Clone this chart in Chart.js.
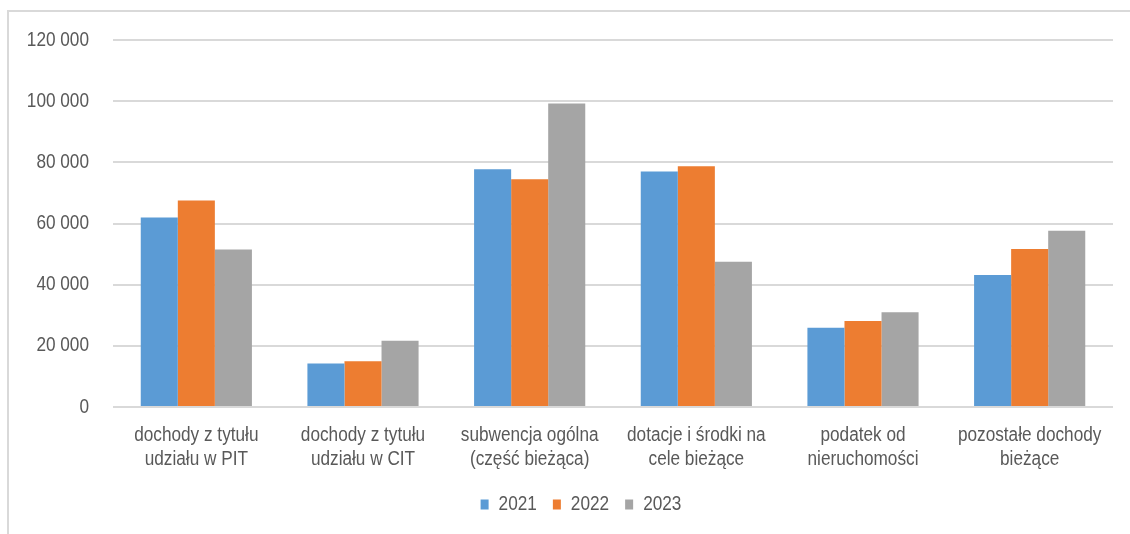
<!DOCTYPE html>
<html>
<head>
<meta charset="utf-8">
<script src="https://cdn.jsdelivr.net/npm/chart.js@4"></script>
<style>
  html, body { margin: 0; padding: 0; background: #fff; }
  #wrap { position: relative; width: 1130px; height: 534px; overflow: hidden; }
  #frame { position: absolute; left: 7px; top: 10px; width: 1200px; height: 600px; border: 2px solid #d9d9d9; box-sizing: border-box; }
  canvas { position: absolute; left: 0; top: 0; }
</style>
</head>
<body>
<div id="wrap">
  <div id="frame"></div>
  <canvas id="c" width="1130" height="534"></canvas>
</div>
<script>
const categories = [
  ["dochody z tytułu", "udziału w PIT"],
  ["dochody z tytułu", "udziału w CIT"],
  ["subwencja ogólna", "(część bieżąca)"],
  ["dotacje i środki na", "cele bieżące"],
  ["podatek od", "nieruchomości"],
  ["pozostałe dochody", "bieżące"]
];
const seriesNames = ["2021", "2022", "2023"];
const values2021 = [62000, 14200, 77700, 77000, 25900, 43200];
const values2022 = [67500, 15000, 74500, 78700, 28100, 51700];
const values2023 = [51500, 21700, 99200, 47500, 31000, 57600];
const yTicks = [0, 20000, 40000, 60000, 80000, 100000, 120000];

const colors = ["#5B9BD5", "#ED7D31", "#A5A5A5"];
const FONT = "'Liberation Sans', Arial, sans-serif";
const TXT = "#595959";
const NARROW = 0.86; // emulate a narrow sans face

function fmt(v) {
  return String(v).replace(/\B(?=(\d{3})+(?!\d))/g, " ");
}

// condensed text rendering on this canvas only
const canvas = document.getElementById("c");
const ctx = canvas.getContext("2d");
const P = CanvasRenderingContext2D.prototype;
ctx.measureText = function (t) {
  const m = P.measureText.call(this, t);
  return {
    width: m.width * NARROW,
    actualBoundingBoxAscent: m.actualBoundingBoxAscent,
    actualBoundingBoxDescent: m.actualBoundingBoxDescent,
    actualBoundingBoxLeft: m.actualBoundingBoxLeft * NARROW,
    actualBoundingBoxRight: m.actualBoundingBoxRight * NARROW,
    fontBoundingBoxAscent: m.fontBoundingBoxAscent,
    fontBoundingBoxDescent: m.fontBoundingBoxDescent
  };
};
ctx.fillText = function (t, x, y, maxW) {
  this.save();
  this.translate(x, y);
  this.scale(NARROW, 1);
  if (maxW !== undefined) P.fillText.call(this, t, 0, 0, maxW / NARROW);
  else P.fillText.call(this, t, 0, 0);
  this.restore();
};

const shiftLegend = {
  id: "shiftLegend",
  beforeDraw(chart) {
    const lg = chart.legend;
    if (!lg) return;
    lg.left = 49;
    lg.right = chart.chartArea.right;
    lg.width = lg.right - lg.left;
  }
};

new Chart(ctx, {
  type: "bar",
  data: {
    labels: categories,
    datasets: [values2021, values2022, values2023].map((d, i) => ({
      label: seriesNames[i],
      data: d,
      backgroundColor: colors[i],
      borderWidth: 0,
      barPercentage: 1.0,
      categoryPercentage: 0.667
    }))
  },
  plugins: [shiftLegend],
  options: {
    responsive: false,
    animation: false,
    devicePixelRatio: 1,
    layout: { padding: { left: 0, right: 17, top: 40, bottom: 9.5 } },
    plugins: {
      legend: {
        position: "bottom",
        labels: {
          color: TXT,
          font: { family: FONT, size: 20 },
          boxWidth: 8,
          boxHeight: 10,
          padding: 16
        }
      },
      tooltip: { enabled: false }
    },
    scales: {
      x: {
        grid: { display: false, drawTicks: false },
        border: { display: false },
        ticks: {
          color: TXT,
          font: { family: FONT, size: 20, lineHeight: 1.2 },
          padding: 16,
          maxRotation: 0,
          autoSkip: false
        },
        afterFit: (s) => { s.height = 71.5; }
      },
      y: {
        min: 0,
        max: 120000,
        afterBuildTicks: (s) => { s.ticks = yTicks.map(v => ({ value: v })); },
        grid: { color: "#d9d9d9", lineWidth: 2, drawTicks: false },
        border: { display: false },
        ticks: {
          color: TXT,
          font: { family: FONT, size: 20 },
          padding: 24,
          callback: (v) => fmt(v)
        },
        afterFit: (s) => { s.width = 113; }
      }
    }
  }
});
</script>
</body>
</html>
